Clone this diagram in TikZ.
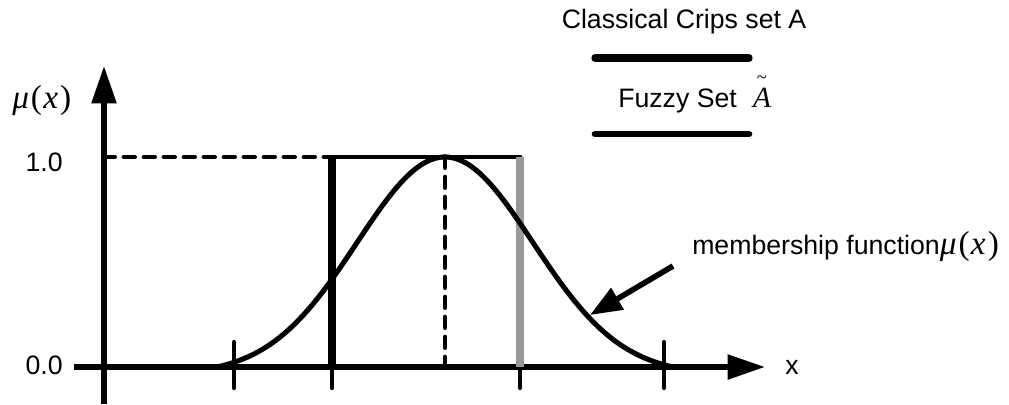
\documentclass[tikz,border=0pt]{standalone}
\usepackage{fontspec}
\setmainfont{Liberation Sans}
\newfontfamily\tms{Liberation Serif}
\usetikzlibrary{arrows.meta}
\newcommand{\mux}{\itshape μ\kern1.5pt\upshape(\kern1pt\itshape x\kern1.5pt\upshape)}
\begin{document}
\begin{tikzpicture}[x=0.75pt,y=-0.75pt,
  axis/.style={line width=4pt,-{Triangle[length=28pt,width=18pt]}},
  tickmark/.style={line width=3.2pt,line cap=round},
  dashline/.style={line width=3.6pt,line cap=round,dash pattern=on 8pt off 7pt},
  curve/.style={line width=3.8pt},
  lbl/.style={font=\fontsize{20}{24}\selectfont,inner sep=0pt},
  mathlbl/.style={font=\tms\fontsize{25}{30}\selectfont,inner sep=0pt}]
\useasboundingbox (0,0) rectangle (1009,404);
% coordinates
\coordinate (xs) at (74,367);
\coordinate (xe) at (765,367);
\coordinate (ys) at (104,404);
\coordinate (ye) at (104,66);
\coordinate (o1) at (104,157);
\coordinate (a) at (332,157);
\coordinate (ab) at (332,367);
\coordinate (b) at (520,157);
\coordinate (bb) at (520,367);
\coordinate (p) at (445,157);
\coordinate (pb) at (445,367);
% axes
\draw[axis] (xs) -- (xe);
\draw[axis] (ys) -- (ye);
% ticks
\foreach \t/\xx in {t1/234,t2/332,t3/520,t4/664}{
  \coordinate (\t u) at (\xx,342);
  \coordinate (\t d) at (\xx,388);
  \draw[tickmark] (\t u) -- (\t d);
}
% dashed lines
\draw[dashline] (o1) -- (a);
\draw[dashline] (p) -- (pb);
% crisp set
\draw[line width=3.6pt,line cap=round] (a) -- (b);
\draw[line width=6.5pt] (ab) -- (a);
\draw[line width=5.5pt,color={rgb,255:red,153;green,153;blue,153}] (bb) -- (b);
% fuzzy curve
\draw[curve] plot[domain=217:673,samples=120,smooth]
  (\x,{367-210*(exp(-((\x-445)/88)^2/2)-0.0349)/(1-0.0349)});
% labels
\node[mathlbl,anchor=west] (mu) at (12,100) {\mux};
\node[lbl,anchor=east] (one) at (63,162) {1.0};
\node[lbl,anchor=east] (zero) at (63,365) {0.0};
\node[lbl,anchor=west] (xl) at (785,367) {x};
% membership label and arrow
\node[anchor=west,inner sep=0pt] (mf) at (692,246)
  {\fontsize{20}{24}\selectfont membership function\tms\fontsize{25}{30}\selectfont\mux};
\coordinate (mfa) at (673,266);
\coordinate (mft) at (590,315);
\draw[line width=4.2pt,-{Triangle[length=24pt,width=18pt]}] (mfa) -- (mft);
% legend
\node[lbl] (crisp) at (684,22) {Classical Crips set A};
\coordinate (l1a) at (595,58);
\coordinate (l1b) at (749,58);
\draw[line width=5.5pt,line cap=round] (l1a) -- (l1b);
\node[lbl,anchor=west] (fuzzy) at (618,101) {Fuzzy Set};
\node[inner sep=0pt,anchor=south,align=center,font=\tms] (At) at (762,108)
  {{\fontsize{14}{10}\selectfont\char"007E}\\[3pt]{\fontsize{22}{26}\selectfont\itshape A}};
\coordinate (l2a) at (595,134);
\coordinate (l2b) at (749,134);
\draw[line width=5pt,line cap=round] (l2a) -- (l2b);
\end{tikzpicture}
\end{document}
